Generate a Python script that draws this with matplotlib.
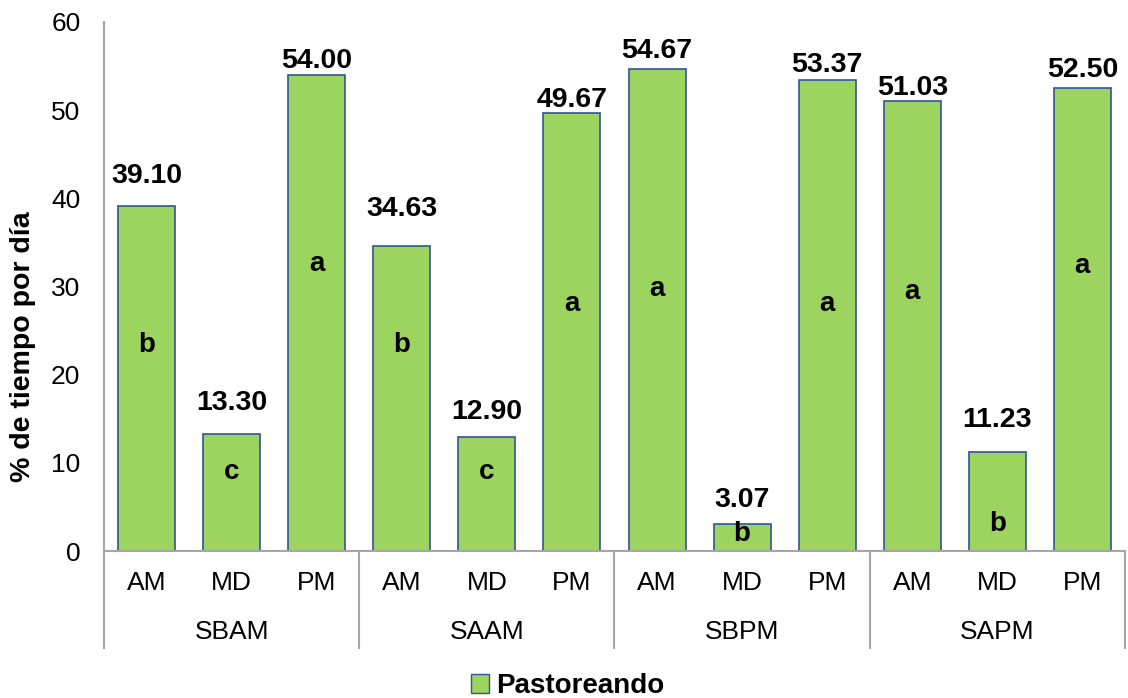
import matplotlib
matplotlib.use("Agg")
import matplotlib.pyplot as plt
import matplotlib.transforms as mtransforms
from matplotlib.patches import Patch

plt.rcParams['font.family'] = ['Liberation Sans', 'DejaVu Sans']

# data
groups = ['SBAM', 'SAAM', 'SBPM', 'SAPM']
periods = ['AM', 'MD', 'PM']
values = [39.10, 13.30, 54.00, 34.63, 12.90, 49.67, 54.67, 3.07, 53.37, 51.03, 11.23, 52.50]
letters = ['b', 'c', 'a', 'b', 'c', 'a', 'a', 'b', 'a', 'a', 'b', 'a']
# where the labels sit (hand placed in the original chart)
label_y = [42.5, 16.8, 55.6, 38.8, 15.8, 51.1, 56.7, 5.8, 55.15, 52.55, 14.9, 54.6]
letter_y = [23.4, 9.0, 32.6, 23.4, 9.0, 28.0, 29.7, 1.9, 28.0, 29.4, 3.1, 32.3]

green = '#9DD35F'
edge = '#2F5597'
grey = '#A6A6A6'

fig = plt.figure(figsize=(11.28, 6.98), dpi=100)
ax = fig.add_axes([0.0922, 0.2106, 0.9051, 0.758])

x = list(range(len(values)))
bars = ax.bar(x, values, width=0.67, color=green, edgecolor=edge, linewidth=1.2)

for xi, v, vy, l, ly in zip(x, values, label_y, letters, letter_y):
    ax.text(xi, vy, '%.2f' % v, ha='center', va='center', fontsize=20.5, fontweight='bold')
    ax.text(xi, ly, l, ha='center', va='center', fontsize=20, fontweight='bold')

ax.set_xlim(-0.5, len(values) - 0.5)
ax.set_ylim(0, 60)
ax.set_yticks(range(0, 61, 10))
ax.tick_params(axis='y', labelsize=19, length=0, pad=17)
ax.set_xticks([])
ax.set_ylabel('% de tiempo por día', fontsize=20.5, fontweight='bold', va='center')
ax.yaxis.set_label_coords(-0.079, 0.386)

for s in ['top', 'right']:
    ax.spines[s].set_visible(False)
for s in ['left', 'bottom']:
    ax.spines[s].set_color(grey)
    ax.spines[s].set_linewidth(1.5)

# multi-level category axis
trans = mtransforms.blended_transform_factory(ax.transData, ax.transAxes)
for i, xi in enumerate(x):
    ax.text(xi, -0.06, periods[i % 3], transform=trans, ha='center', va='center', fontsize=19)
for g, name in enumerate(groups):
    ax.text(g * 3 + 1, -0.153, name, transform=trans, ha='center', va='center', fontsize=19)
for b in range(len(groups) + 1):
    ax.plot([b * 3 - 0.5, b * 3 - 0.5], [0, -0.183], transform=trans, color=grey,
            linewidth=1.5, clip_on=False)

fig.legend(handles=[Patch(facecolor=green, edgecolor=edge, label='Pastoreando')],
           loc='center', bbox_to_anchor=(0.503, 0.017), frameon=False,
           prop={'size': 20, 'weight': 'bold'}, handlelength=0.65, handleheight=0.65,
           handletextpad=0.25, borderpad=0)

fig.savefig('out.png', dpi=100)
